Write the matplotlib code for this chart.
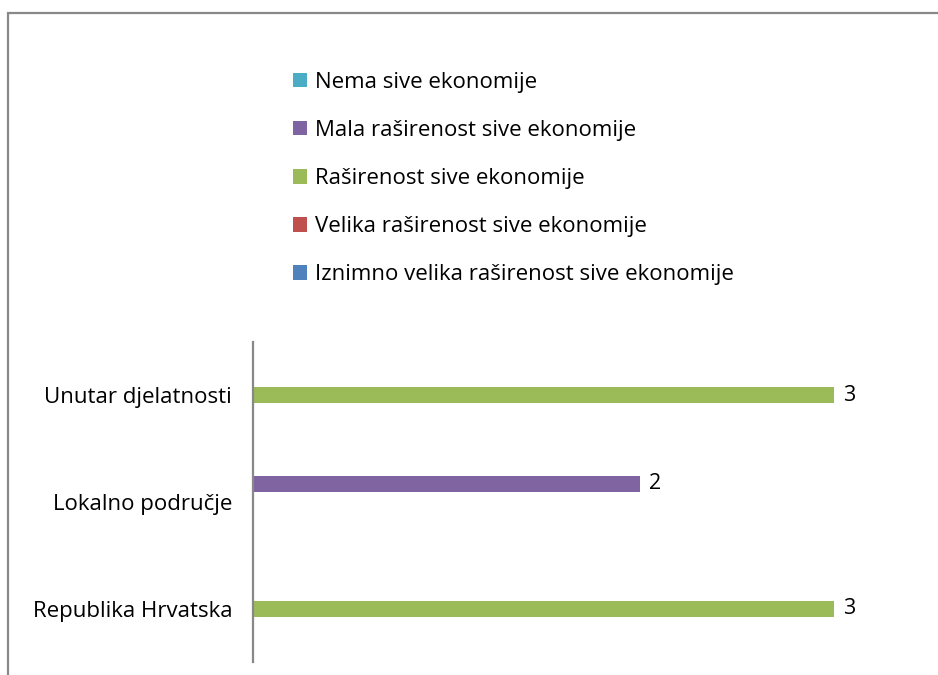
import matplotlib.pyplot as plt
from matplotlib.patches import Rectangle, Patch
import numpy as np

plt.rcParams['font.family'] = ['Open Sans', 'DejaVu Sans']

# categories, bottom to top as drawn
categories = ['Republika Hrvatska', 'Lokalno područje', 'Unutar djelatnosti']

# series in legend order (top to bottom)
series_names = ['Nema sive ekonomije',
                'Mala raširenost sive ekonomije',
                'Raširenost sive ekonomije',
                'Velika raširenost sive ekonomije',
                'Iznimno velika raširenost sive ekonomije']
series_colors = ['#4bacc6', '#8064a2', '#9bbb59', '#c0504d', '#4f81bd']
nema = [0, 0, 0]
mala = [0, 2, 0]
rasirenost = [3, 0, 3]
velika = [0, 0, 0]
iznimno = [0, 0, 0]
series_vals = [nema, mala, rasirenost, velika, iznimno]

W, H = 938, 675
fig = plt.figure(figsize=(W / 100, H / 100), dpi=100)

# outer chart frame
fig.patches.append(Rectangle((8 / W, -0.1), 1.2, (H - 13) / H + 0.1,
                             transform=fig.transFigure, fill=False,
                             edgecolor='#888888', linewidth=1.6))

xmax = 3.4
ax = fig.add_axes([253 / W, 13 / H, xmax * 193.7 / W, 320 / H])

y = np.arange(len(categories))
bar_h = 0.15
step = 0.17
offsets = [2, 1, 0, -1, -2]  # Nema on top of group, Iznimno at bottom
for name, col, vals, off in zip(series_names, series_colors, series_vals, offsets):
    pos = y + off * step
    ax.barh(pos, vals, height=bar_h, color=col, label=name)
    for p, v in zip(pos, vals):
        if v:
            ax.text(v + 0.045, p, str(v), va='center', ha='left', fontsize=15.5)

ax.set_xlim(0, xmax)
ax.set_ylim(-0.5, len(categories) - 0.5)
ax.set_yticks(y)
ax.set_yticklabels(categories, fontsize=16)
ax.tick_params(axis='y', length=0, pad=15)
ax.set_xticks([])
for s in ['top', 'right', 'bottom']:
    ax.spines[s].set_visible(False)
ax.spines['left'].set_color('#888888')
ax.spines['left'].set_linewidth(1.6)

handles = [Patch(facecolor=c, label=n) for n, c in zip(series_names, series_colors)]
fig.legend(handles=handles, loc='upper left', bbox_to_anchor=(273 / W, 1 - 52 / H),
           frameon=False, fontsize=16, handlelength=0.62, handleheight=0.62,
           handletextpad=0.35, labelspacing=1.22)

fig.savefig('out.png', dpi=100)
